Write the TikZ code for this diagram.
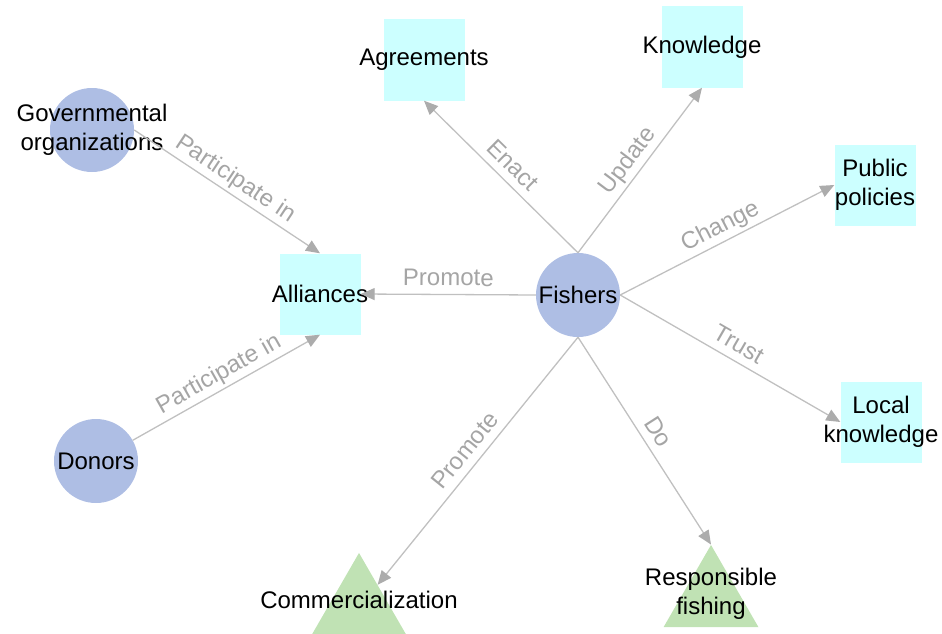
\documentclass[tikz,border=0pt]{standalone}
\usepackage{fontspec}
\setmainfont{Liberation Sans}
\usetikzlibrary{arrows.meta,shapes.geometric}
\definecolor{circfill}{RGB}{174,190,228}
\definecolor{sqfill}{RGB}{204,255,255}
\definecolor{trifill}{RGB}{192,226,180}
\definecolor{edgecol}{RGB}{192,192,192}
\definecolor{arrowcol}{RGB}{172,172,172}
\definecolor{lblcol}{RGB}{165,165,165}
\newcommand{\dgfont}{\fontsize{24}{29}\selectfont}
\begin{document}
\begin{tikzpicture}[x=1pt,y=-1pt,
  txt/.style={label={[font=\dgfont,align=center,text=black,inner sep=0pt]center:#1}},
  actor/.style={circle,fill=circfill,minimum size=84pt,inner sep=0pt},
  thing/.style={rectangle,fill=sqfill,minimum width=81pt,minimum height=81pt,inner sep=0pt},
  act/.style={regular polygon,regular polygon sides=3,minimum size=109.7pt,inner sep=0pt,fill=trifill},
  rel/.style={draw=edgecol,line width=1.3pt,-{Triangle[length=14pt,width=12pt,color=arrowcol]}},
  lbl/.style={midway,sloped,above=1pt,font=\dgfont,text=lblcol,inner sep=2pt,text height=17pt,text depth=5pt}]
\useasboundingbox (0,0) rectangle (942,634);
% nodes
\node[actor,txt={Fishers}] (fishers) at (578,295) {};
\node[actor,txt={Governmental\\organizations}] (gov) at (92,130) {};
\node[actor,txt={Donors}] (donors) at (96,461) {};
\node[thing,txt={Alliances}] (alliances) at (320,294) {};
\node[thing,txt={Agreements}] (agreements) at (424,60) {};
\node[thing,txt={Knowledge}] (knowledge) at (702,47) {};
\node[thing,txt={Public\\policies}] (public) at (875,185) {};
\node[thing,txt={Local\\knowledge}] (local) at (881,422) {};
\node[act,label={[font=\dgfont,text=black,inner sep=0pt,yshift=8pt]center:Commercialization}] (comm) at (359,607.8) {};
\node[act,label={[font=\dgfont,text=black,align=center,inner sep=0pt,yshift=6pt]center:Responsible\\fishing}] (resp) at (711,599.8) {};
% edges
\draw[rel] (gov.east) -- node[lbl]{Participate in} (alliances.north);
\draw[rel] (donors) -- node[lbl]{Participate in} (alliances.south);
\draw[rel] (fishers.west) -- node[lbl]{Promote} (alliances.east);
\draw[rel] (fishers.north) -- node[lbl]{Enact} (agreements.south);
\draw[rel] (fishers.north) -- node[lbl]{Update} (knowledge.south);
\draw[rel] (fishers.east) -- node[lbl]{Change} (public.west);
\draw[rel] (fishers.east) -- node[lbl]{Trust} (local.west);
\draw[rel] (fishers.south) -- node[lbl]{Do} (resp.corner 1);
\draw[rel] (fishers.south) -- node[lbl]{Promote} (comm);
\end{tikzpicture}
\end{document}
